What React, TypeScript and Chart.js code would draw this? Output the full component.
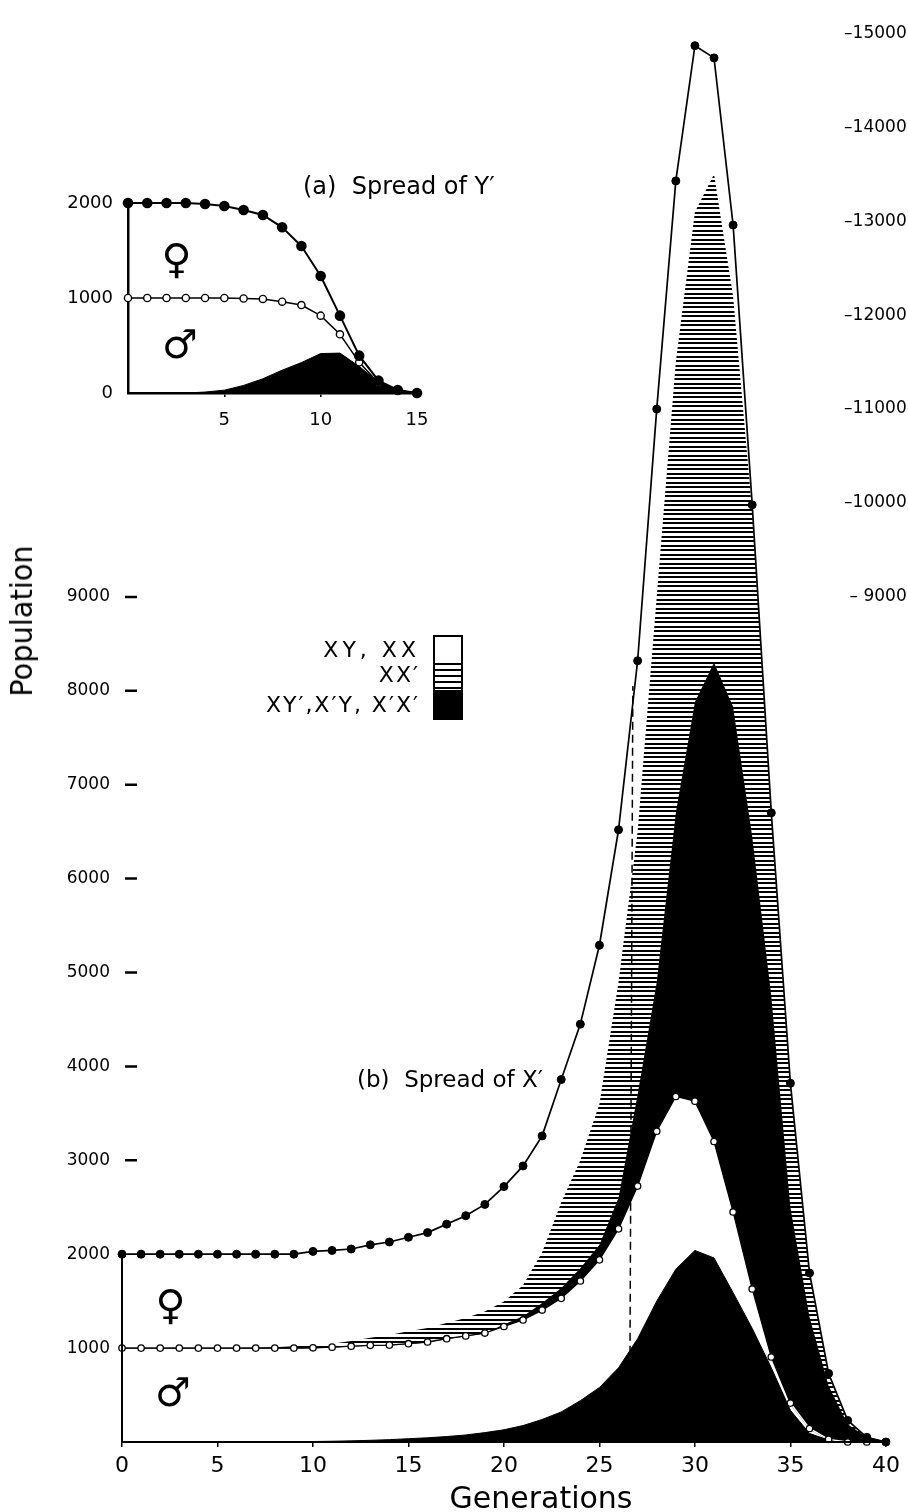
import React, { useEffect, useRef } from 'react';
import { Chart, registerables } from 'chart.js';

Chart.register(...registerables);

const FONT = '"DejaVu Sans", sans-serif';

// ---------- (b) Spread of X' : main chart ----------
const generations = [0, 1, 2, 3, 4, 5, 6, 7, 8, 9, 10, 11, 12, 13, 14, 15, 16, 17, 18, 19, 20, 21, 22, 23, 24, 25, 26, 27, 28, 29, 30, 31, 32, 33, 34, 35, 36, 37, 38, 39, 40];

// cumulative total (males + females), filled circles
const femaleTotal = [2000, 2000, 2000, 2000, 2000, 2000, 2000, 2000, 2000, 2000, 2030, 2040, 2055, 2100, 2130, 2180, 2230, 2320, 2410, 2530, 2720, 2940, 3260, 3860, 4450, 5290, 6520, 8320, 11000, 13430, 14870, 14740, 12960, 9980, 6700, 3820, 1800, 730, 230, 50, 0];
// males, open circles
const maleTotal = [1000, 1000, 1000, 1000, 1000, 1000, 1000, 1000, 1000, 1000, 1003, 1010, 1020, 1030, 1032, 1047, 1065, 1100, 1130, 1160, 1230, 1300, 1405, 1530, 1715, 1940, 2270, 2725, 3310, 3680, 3630, 3200, 2450, 1630, 905, 414, 144, 28, 0, 0, 0];
// upper edge of the X'X' (black) band in the female region
const femaleBlackTop = [1000, 1000, 1000, 1000, 1000, 1000, 1000, 1000, 1000, 1000, 1003, 1010, 1020, 1030, 1032, 1047, 1065, 1100, 1130, 1160, 1250, 1340, 1480, 1640, 1850, 2100, 2600, 3700, 4900, 6700, 7880, 8300, 7830, 6450, 4750, 2500, 1330, 600, 190, 50, 0];
// upper edge of the XX' (hatched) band
const hatchTop = [1000, 1000, 1000, 1000, 1000, 1000, 1000, 1005, 1010, 1020, 1030, 1045, 1075, 1110, 1140, 1180, 1214, 1266, 1320, 1390, 1495, 1670, 2020, 2550, 3000, 3600, 4900, 6500, 9000, 11500, 13100, 13500, 12200, 9900, 6650, 3780, 1780, 710, 215, 50, 0];
// XY', X'Y males (black, bottom)
const maleBlack = [0, 0, 0, 0, 0, 0, 0, 0, 0, 0, 5, 8, 12, 18, 25, 35, 45, 58, 75, 100, 130, 175, 240, 320, 440, 580, 790, 1100, 1500, 1840, 2040, 1960, 1590, 1210, 790, 337, 91, 20, 0, 0, 0];

const dashedGen = [26.6, 26.75];
const dashedPop = [940, 8050];

const xTickValues = [0, 5, 10, 15, 20, 25, 30, 35, 40];
const leftTickValues = [1000, 2000, 3000, 4000, 5000, 6000, 7000, 8000, 9000];
const rightTickValues = [9000, 10000, 11000, 12000, 13000, 14000, 15000];
const boxTop = 2000;
const lastGen = 40;
const maleWhiteFrom = 35;

// ---------- (a) Spread of Y' : inset ----------
const insetGenerations = [0, 1, 2, 3, 4, 5, 6, 7, 8, 9, 10, 11, 12, 13, 14, 15];
const insetFemale = [2000, 2000, 2000, 2000, 1990, 1968, 1926, 1874, 1744, 1547, 1232, 814, 393, 130, 32, 0];
const insetMale = [1000, 1000, 1000, 1000, 1000, 1000, 995, 990, 961, 926, 814, 618, 323, 105, 25, 0];
const insetBlack = [0, 0, 0, 0, 10, 30, 80, 150, 240, 320, 415, 420, 280, 115, 30, 0];
const insetXTicks = [5, 10, 15];
const insetYTicks = [0, 1000, 2000];

function pts(xs: number[], ys: number[]) {
  return xs.map((x, i) => ({ x, y: ys[i] }));
}

function makeHatch(): any {
  const tile = document.createElement('canvas');
  tile.width = 8;
  tile.height = 9;
  const c = tile.getContext('2d');
  if (!c) return '#777';
  c.fillStyle = '#fff';
  c.fillRect(0, 0, 8, 9);
  c.fillStyle = '#000';
  c.fillRect(0, 0, 8, 2);
  c.fillRect(0, 5, 8, 2);
  return c.createPattern(tile, 'repeat') || '#777';
}

const axisPlugin = {
  id: 'axisLines',
  afterDatasetsDraw(chart: any) {
    const { ctx, scales } = chart;
    const x = scales.x;
    const y = scales.y;
    const x0 = x.getPixelForValue(0);
    ctx.save();
    ctx.strokeStyle = '#000';
    ctx.lineWidth = 2;
    ctx.beginPath();
    ctx.moveTo(x0, y.getPixelForValue(boxTop));
    ctx.lineTo(x0, y.getPixelForValue(0));
    ctx.lineTo(x.getPixelForValue(lastGen), y.getPixelForValue(0));
    ctx.stroke();
    ctx.lineWidth = 2.5;
    ctx.beginPath();
    leftTickValues.filter((v) => v > boxTop).forEach((v) => {
      const py = y.getPixelForValue(v);
      ctx.moveTo(x0 + 3, py);
      ctx.lineTo(x0 + 15, py);
    });
    ctx.stroke();
    ctx.restore();
  },
};

function mainConfig(): any {
  const hatch = makeHatch();
  const tailStart = generations.indexOf(maleWhiteFrom);
  return {
    type: 'line',
    data: {
      datasets: [
        {
          label: 'Total',
          data: pts(generations, femaleTotal),
          borderColor: '#000',
          borderWidth: 1.7,
          pointRadius: 4,
          pointBackgroundColor: '#000',
          pointBorderColor: '#000',
          pointBorderWidth: 1,
          fill: false,
          clip: false,
        },
        {
          label: 'Males',
          data: pts(generations, maleTotal),
          showLine: false,
          borderColor: '#000',
          pointRadius: 3.2,
          pointBackgroundColor: '#fff',
          pointBorderColor: '#000',
          pointBorderWidth: 1.3,
          fill: false,
          clip: false,
        },
        {
          label: 'Males tail',
          data: pts(generations.slice(tailStart), maleTotal.slice(tailStart)),
          borderColor: '#fff',
          borderWidth: 1.4,
          pointRadius: 0,
          fill: false,
        },
        {
          label: 'Males line',
          data: pts(generations, maleTotal),
          borderColor: '#000',
          borderWidth: 1.3,
          pointRadius: 0,
          fill: false,
        },
        {
          label: 'dashed',
          data: pts(dashedGen, dashedPop),
          borderColor: '#000',
          borderWidth: 1.5,
          borderDash: [8, 5],
          pointRadius: 0,
          fill: false,
        },
        {
          label: "XX'",
          data: pts(generations, hatchTop),
          borderColor: 'rgba(0,0,0,0)',
          borderWidth: 1,
          pointRadius: 0,
          backgroundColor: hatch,
          fill: 6,
        },
        {
          label: "X'X'",
          data: pts(generations, femaleBlackTop),
          borderColor: '#000',
          borderWidth: 1,
          pointRadius: 0,
          backgroundColor: '#000',
          fill: 1,
        },
        {
          label: "XY', X'Y",
          data: pts(generations, maleBlack),
          borderColor: '#000',
          borderWidth: 1,
          pointRadius: 0,
          backgroundColor: '#000',
          fill: 'origin',
        },
      ],
    },
    options: {
      responsive: false,
      animation: false,
      events: [],
      layout: { padding: { top: 4, left: 0, right: 0, bottom: 0 } },
      plugins: { legend: { display: false }, tooltip: { enabled: false } },
      elements: { line: { tension: 0 } },
      scales: {
        x: {
          type: 'linear',
          min: 0,
          max: 40.88,
          afterBuildTicks: (s: any) => {
            s.ticks = xTickValues.map((v) => ({ value: v }));
          },
          afterFit: (s: any) => {
            s.height = 70;
          },
          grid: { display: true, drawOnChartArea: false, drawTicks: true, tickLength: 5, color: '#000', lineWidth: 1.5 },
          border: { display: false },
          ticks: { color: '#000', font: { family: FONT, size: 22 }, padding: 6, maxRotation: 0, autoSkip: false, callback: (v: any) => String(v) },
        },
        y: {
          position: 'left',
          min: 0,
          max: 15120,
          afterBuildTicks: (s: any) => {
            s.ticks = leftTickValues.map((v) => ({ value: v }));
          },
          afterFit: (s: any) => {
            s.width = 122;
          },
          grid: { display: false, drawTicks: false },
          border: { display: false },
          ticks: { color: '#000', font: { family: FONT, size: 17 }, padding: 12, callback: (v: any) => String(v) },
        },
        yRight: {
          position: 'right',
          min: 0,
          max: 15120,
          afterBuildTicks: (s: any) => {
            s.ticks = rightTickValues.map((v) => ({ value: v }));
          },
          afterFit: (s: any) => {
            s.width = 0;
          },
          grid: { display: false, drawTicks: false },
          border: { display: false },
          ticks: {
            color: '#000',
            mirror: true,
            padding: 4,
            font: { family: FONT, size: 17 },
            callback: (v: any) => (v < 10000 ? '\u2013 ' + v : '\u2013' + v),
          },
        },
      },
    },
    plugins: [axisPlugin],
  };
}

function insetConfig(): any {
  return {
    type: 'line',
    data: {
      datasets: [
        {
          label: 'Total',
          data: pts(insetGenerations, insetFemale),
          borderColor: '#000',
          borderWidth: 2,
          pointRadius: 4.3,
          pointBackgroundColor: '#000',
          pointBorderColor: '#000',
          fill: false,
          clip: false,
        },
        {
          label: 'Males',
          data: pts(insetGenerations, insetMale),
          borderColor: '#000',
          borderWidth: 1.5,
          pointRadius: 3.6,
          pointBackgroundColor: '#fff',
          pointBorderColor: '#000',
          pointBorderWidth: 1.4,
          fill: false,
          clip: false,
        },
        {
          label: "XY'",
          data: pts(insetGenerations, insetBlack),
          borderColor: '#000',
          borderWidth: 1,
          pointRadius: 0,
          backgroundColor: '#000',
          fill: 'origin',
        },
      ],
    },
    options: {
      responsive: false,
      animation: false,
      events: [],
      layout: { padding: { top: 53, left: 0, right: 33, bottom: 0 } },
      plugins: { legend: { display: false }, tooltip: { enabled: false } },
      elements: { line: { tension: 0 } },
      scales: {
        x: {
          type: 'linear',
          min: 0,
          max: 15,
          afterBuildTicks: (s: any) => {
            s.ticks = insetXTicks.map((v) => ({ value: v }));
          },
          afterFit: (s: any) => {
            s.height = 57;
          },
          grid: { display: true, drawOnChartArea: false, drawTicks: true, tickLength: 4, color: '#000', lineWidth: 1.5 },
          border: { display: true, color: '#000', width: 2.5 },
          ticks: { color: '#000', font: { family: FONT, size: 18 }, padding: 13, maxRotation: 0, autoSkip: false, callback: (v: any) => String(v) },
        },
        y: {
          position: 'left',
          min: 0,
          max: 2000,
          afterBuildTicks: (s: any) => {
            s.ticks = insetYTicks.map((v) => ({ value: v }));
          },
          afterFit: (s: any) => {
            s.width = 128;
          },
          grid: { display: false, drawTicks: false },
          border: { display: true, color: '#000', width: 2.5 },
          ticks: { color: '#000', font: { family: FONT, size: 18 }, padding: 15, callback: (v: any) => String(v) },
        },
      },
    },
  };
}

const txt: React.CSSProperties = {
  position: 'absolute',
  fontFamily: FONT,
  color: '#000',
  lineHeight: 1,
  whiteSpace: 'nowrap',
};

function Centered({ x, y, size, children, extra }: { x: number; y: number; size: number; children: React.ReactNode; extra?: string }) {
  return (
    <div style={{ ...txt, left: x, top: y, fontSize: size, transform: 'translate(-50%, -50%) ' + (extra || '') }}>{children}</div>
  );
}

export default function App() {
  const mainRef = useRef<HTMLCanvasElement>(null);
  const insetRef = useRef<HTMLCanvasElement>(null);

  useEffect(() => {
    const main = new Chart(mainRef.current as HTMLCanvasElement, mainConfig());
    const inset = new Chart(insetRef.current as HTMLCanvasElement, insetConfig());
    return () => {
      main.destroy();
      inset.destroy();
    };
  }, []);

  const legendLine: React.CSSProperties = { ...txt, right: 908 - 420, fontSize: 22, letterSpacing: 2, textAlign: 'right' };

  return (
    <div style={{ position: 'absolute', left: 0, top: 0, width: 908, height: 1512, background: '#fff', overflow: 'hidden' }}>
      <canvas ref={mainRef} width={908} height={1512} style={{ position: 'absolute', left: 0, top: 0 }} />
      <canvas ref={insetRef} width={450} height={300} style={{ position: 'absolute', left: 0, top: 150 }} />

      <div style={{ ...txt, left: 303, top: 174, fontSize: 24 }}>(a)&nbsp; Spread of Y′</div>
      <div style={{ ...txt, left: 357, top: 1068, fontSize: 23 }}>(b)&nbsp; Spread of X′</div>

      <Centered x={21.5} y={621} size={30} extra="rotate(-90deg) scaleX(0.96)">Population</Centered>
      <Centered x={541} y={1498} size={30}>Generations</Centered>

      <Centered x={176.5} y={259} size={41}>♀</Centered>
      <Centered x={180} y={344} size={40}>♂</Centered>
      <Centered x={170.5} y={1305} size={41}>♀</Centered>
      <Centered x={173} y={1392} size={40}>♂</Centered>

      <div style={{ ...legendLine, top: 639, letterSpacing: 4 }}>XY, XX</div>
      <div style={{ ...legendLine, top: 664 }}>XX′</div>
      <div style={{ ...legendLine, top: 694 }}>XY′,X′Y, X′X′</div>
      <div
        style={{
          position: 'absolute',
          left: 433,
          top: 635,
          width: 30,
          height: 85,
          border: '2px solid #000',
          boxSizing: 'border-box',
          display: 'flex',
          flexDirection: 'column',
        }}
      >
        <div style={{ height: 26, background: '#fff' }} />
        <div style={{ height: 27, background: 'repeating-linear-gradient(to bottom, #000 0px, #000 2px, #fff 2px, #fff 6px)' }} />
        <div style={{ flex: 1, background: '#000' }} />
      </div>
    </div>
  );
}
